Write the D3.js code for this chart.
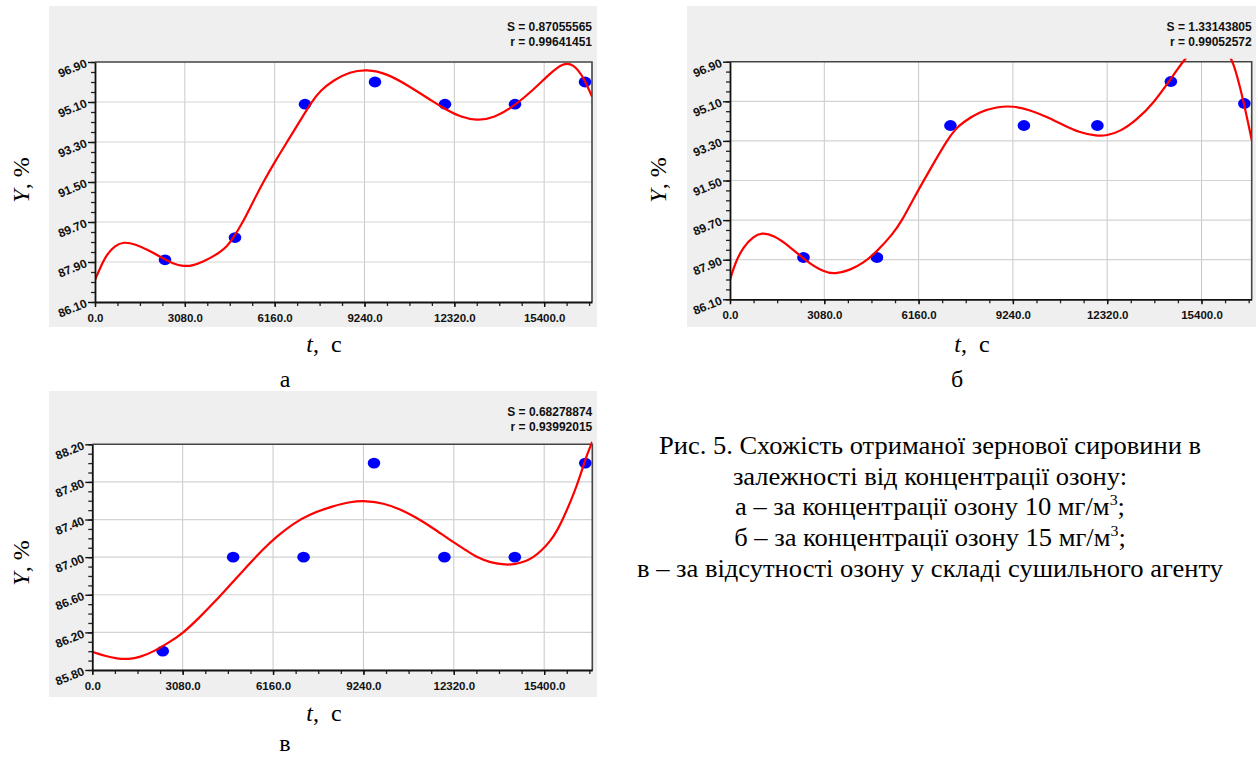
<!DOCTYPE html>
<html>
<head>
<meta charset="utf-8">
<script src="https://cdn.jsdelivr.net/npm/d3@7"></script>
<style>
  body { margin: 0; background: #ffffff; }
</style>
</head>
<body>
<svg id="fig" width="1258" height="758"></svg>
<script>
// Sampling times, s
const sampleTime = [2400, 4800, 7200, 9600, 12000, 14400, 16800];

// Germination, % (а – 10 mg/m3 ozone, б – 15 mg/m3, в – no ozone)
const germA = [88.0, 89.0, 95.0, 96.0, 95.0, 95.0, 96.0];
const germB = [88.0, 88.0, 94.0, 94.0, 94.0, 96.0, 95.0];
const germC = [86.0, 87.0, 87.0, 88.0, 87.0, 87.0, 88.0];

// Fitted regression curves (time, value)
const fitTimeA = [0, 171, 411, 686, 977, 1371, 1886, 2331, 2674, 3017, 3360, 3703, 4046, 4286, 4526, 4742,
  5057, 5400, 5770, 6171, 6593, 7029, 7430, 7714, 8160, 8743, 9315, 10001, 10800, 11599, 12058, 12514,
  13087, 13656, 14342, 15027, 15600, 16056, 16399, 16742, 17040];
const fitA = [87.09, 87.63, 88.26, 88.64, 88.81, 88.71, 88.40, 88.06, 87.83, 87.70, 87.74, 87.91, 88.15, 88.35,
  88.60, 88.98, 89.66, 90.56, 91.50, 92.42, 93.32, 94.25, 95.11, 95.60, 96.07, 96.46, 96.57, 96.39, 95.79,
  95.11, 94.74, 94.44, 94.26, 94.37, 94.89, 95.64, 96.39, 96.87, 96.81, 96.24, 95.34];

const fitTimeB = [0, 163, 434, 761, 1035, 1414, 1960, 2505, 3047, 3430, 3919, 4354, 4792, 5334, 5608, 5961,
  6320, 6696, 7078, 7349, 7620, 8166, 8711, 9254, 9799, 10344, 10887, 11432, 11977, 12304, 12738, 13284,
  13829, 14374, 14809, 15150, 15500, 15850, 16150, 16440, 16766, 17040];
const fitB = [86.98, 87.74, 88.49, 88.95, 89.13, 89.02, 88.49, 87.81, 87.35, 87.24, 87.43, 87.74, 88.26, 89.10,
  89.66, 90.59, 91.48, 92.39, 93.30, 93.82, 94.16, 94.63, 94.85, 94.89, 94.70, 94.40, 94.02, 93.67, 93.52,
  93.54, 93.72, 94.25, 95.01, 96.07, 96.95, 97.45, 97.75, 97.80, 97.55, 96.95, 95.16, 93.34];

const fitTimeC = [0, 433, 842, 1230, 1626, 2093, 2556, 3091, 3671, 4182, 4693, 5262, 5828, 6284, 6850, 7419,
  8213, 8782, 9352, 9917, 10486, 11055, 11621, 12190, 12760, 13100, 13554, 14099, 14430, 14713, 15029,
  15292, 15598, 15837, 16052, 16280, 16509, 16723, 16859, 17040];
const fitC = [85.994, 85.949, 85.920, 85.914, 85.935, 85.997, 86.082, 86.190, 86.364, 86.528, 86.704, 86.898,
  87.087, 87.220, 87.358, 87.459, 87.544, 87.590, 87.600, 87.573, 87.512, 87.419, 87.307, 87.182, 87.069,
  86.998, 86.943, 86.916, 86.927, 86.948, 86.998, 87.065, 87.166, 87.278, 87.416, 87.576, 87.757, 87.959,
  88.087, 88.228];

// Axis ticks
const timeMax = 17040;
const xTicks = [0, 3080, 6160, 9240, 12320, 15400];
const yTicksAB = [86.10, 87.90, 89.70, 91.50, 93.30, 95.10, 96.90];
const yTicksC = [85.80, 86.20, 86.60, 87.00, 87.40, 87.80, 88.20];

// Fit statistics
const statS = ["0.87055565", "1.33143805", "0.68278874"];
const statR = ["0.99641451", "0.99052572", "0.93992015"];

const panelLetters = ["а", "б", "в"];

const captionLines = [
  ["Рис. 5. Схожість отриманої зернової сировини в"],
  ["залежності від концентрації озону:"],
  ["а – за концентрації озону 10 мг/м", "3", ";"],
  ["б – за концентрації озону 15 мг/м", "3", ";"],
  ["в – за відсутності озону у складі сушильного агенту"]
];

const SANS = '"Liberation Sans", Arial, sans-serif';
const SERIF = '"Liberation Serif", "Times New Roman", "DejaVu Serif", serif';

const svg = d3.select("#fig");

const panels = [
  { bg: [49, 6, 548, 321], plot: [95, 62, 497, 240], yTicks: yTicksAB, yMinor: 0.45,
    t: sampleTime, v: germA, ft: fitTimeA, fv: fitA, k: 0,
    yLab: [29, 180], xLab: [324, 352], letter: [285, 387] },
  { bg: [687, 6, 569, 321], plot: [730, 61.7, 521.7, 237.6], yTicks: yTicksAB, yMinor: 0.45,
    t: sampleTime, v: germB, ft: fitTimeB, fv: fitB, k: 1,
    yLab: [666, 180], xLab: [972, 352], letter: [957, 387] },
  { bg: [49, 391, 548, 306], plot: [92.3, 444.3, 500, 225.7], yTicks: yTicksC, yMinor: 0.1,
    t: sampleTime, v: germC, ft: fitTimeC, fv: fitC, k: 2,
    yLab: [29, 563], xLab: [324, 721], letter: [285, 751] }
];

panels.forEach(p => {
  const [px, py, pw, ph] = p.plot;
  const g = svg.append("g");

  g.append("rect")
    .attr("x", p.bg[0]).attr("y", p.bg[1])
    .attr("width", p.bg[2]).attr("height", p.bg[3])
    .attr("fill", "#efefef");

  const x = d3.scaleLinear().domain([0, timeMax]).range([px, px + pw]);
  const y = d3.scaleLinear()
    .domain([p.yTicks[0], p.yTicks[p.yTicks.length - 1]])
    .range([py + ph, py]);

  g.append("rect")
    .attr("x", px).attr("y", py).attr("width", pw).attr("height", ph)
    .attr("fill", "#ffffff");

  // grid
  g.selectAll(".vgrid").data(xTicks.slice(1)).join("line")
    .attr("x1", d => x(d)).attr("x2", d => x(d))
    .attr("y1", py).attr("y2", py + ph)
    .attr("stroke", "#c9c9c9").attr("stroke-width", 1);
  g.selectAll(".hgrid").data(p.yTicks.slice(1, -1)).join("line")
    .attr("x1", px).attr("x2", px + pw)
    .attr("y1", d => y(d)).attr("y2", d => y(d))
    .attr("stroke", "#d3d3d3").attr("stroke-width", 1.2);

  // frame (top / right)
  g.append("path")
    .attr("d", `M${px},${py}H${px + pw}V${py + ph}`)
    .attr("fill", "none").attr("stroke", "#444").attr("stroke-width", 1.6);

  // data points
  g.selectAll(".pt").data(p.t.map((t, i) => [t, p.v[i]])).join("ellipse")
    .attr("cx", d => x(d[0])).attr("cy", d => y(d[1]))
    .attr("rx", 6.3).attr("ry", 5.4)
    .attr("fill", "#0000ff");

  // fitted curve
  const clipId = "clip" + p.k;
  svg.append("clipPath").attr("id", clipId)
    .append("rect").attr("x", px).attr("y", py - 3).attr("width", pw).attr("height", ph + 3);
  const line = d3.line()
    .x(d => x(d[0])).y(d => y(d[1]))
    .curve(d3.curveBasis);
  g.append("path")
    .datum(p.ft.map((t, i) => [t, p.fv[i]]))
    .attr("clip-path", `url(#${clipId})`)
    .attr("d", line)
    .attr("fill", "none").attr("stroke", "#ff0000").attr("stroke-width", 2.2)
    .attr("stroke-linejoin", "round");

  // left axis
  const minorY = d3.range(p.yTicks[0], p.yTicks[p.yTicks.length - 1] + 1e-9, p.yMinor);
  g.append("g").attr("transform", `translate(${px},0)`)
    .call(d3.axisLeft(y).tickValues(minorY).tickSize(4).tickSizeOuter(0).tickFormat(""))
    .call(a => a.select(".domain").remove())
    .call(a => a.selectAll("line").attr("stroke", "#222").attr("stroke-width", 1.3));
  const ay = g.append("g").attr("transform", `translate(${px},0)`)
    .call(d3.axisLeft(y).tickValues(p.yTicks).tickSize(7).tickSizeOuter(0).tickFormat(d3.format(".2f")));
  ay.select(".domain").attr("stroke", "#111").attr("stroke-width", 1.8);
  ay.selectAll("line").attr("stroke", "#111").attr("stroke-width", 1.4);
  ay.selectAll("text")
    .attr("x", null).attr("dy", null)
    .attr("text-anchor", "end")
    .attr("transform", "translate(-7,4) rotate(-22)")
    .attr("fill", "#111")
    .style("font-family", SANS)
    .style("font-weight", "bold").style("font-size", "12px");

  // bottom axis
  const minorX = d3.range(0, timeMax, 770);
  g.append("g").attr("transform", `translate(0,${py + ph})`)
    .call(d3.axisBottom(x).tickValues(minorX).tickSize(4).tickSizeOuter(0).tickFormat(""))
    .call(a => a.select(".domain").remove())
    .call(a => a.selectAll("line").attr("stroke", "#222").attr("stroke-width", 1.3));
  const ax = g.append("g").attr("transform", `translate(0,${py + ph})`)
    .call(d3.axisBottom(x).tickValues(xTicks).tickSize(5).tickSizeOuter(0).tickPadding(7)
      .tickFormat(d3.format(".1f")));
  ax.select(".domain").attr("stroke", "#111").attr("stroke-width", 1.8);
  ax.selectAll("line").attr("stroke", "#111").attr("stroke-width", 1.4);
  ax.selectAll("text")
    .attr("fill", "#111")
    .style("font-family", SANS)
    .style("font-weight", "bold").style("font-size", "11.5px");

  // statistics
  const st = g.append("text")
    .attr("text-anchor", "end")
    .style("font-family", SANS)
    .style("font-weight", "bold").style("font-size", "12px").attr("fill", "#111");
  st.append("tspan").attr("x", px + pw).attr("y", p.bg[1] + 25).text(`S = ${statS[p.k]}`);
  st.append("tspan").attr("x", px + pw).attr("y", p.bg[1] + 40).text(`r = ${statR[p.k]}`);

  // axis titles
  const yl = svg.append("text")
    .attr("transform", `translate(${p.yLab[0]},${p.yLab[1]}) rotate(-90)`)
    .attr("text-anchor", "middle")
    .style("font-family", SERIF).style("font-size", "24px").attr("fill", "#000");
  yl.append("tspan").style("font-style", "italic").text("Y");
  yl.append("tspan").text(",\u00a0%");

  const xl = svg.append("text")
    .attr("x", p.xLab[0]).attr("y", p.xLab[1])
    .attr("text-anchor", "middle")
    .style("font-family", SERIF).style("font-size", "24px").attr("fill", "#000");
  xl.append("tspan").style("font-style", "italic").text("t");
  xl.append("tspan").text(",\u00a0\u00a0с");

  svg.append("text")
    .attr("x", p.letter[0]).attr("y", p.letter[1])
    .attr("text-anchor", "middle")
    .style("font-family", SERIF).style("font-size", "24px").attr("fill", "#000")
    .text(panelLetters[p.k]);
});

// figure caption
const cap = svg.append("g");
const capBase = [454, 485, 515, 546, 577];
const capCenter = 930;
const capNodes = captionLines.map((parts, i) => {
  const t = cap.append("text")
    .attr("x", capCenter).attr("y", capBase[i])
    .attr("text-anchor", "middle")
    .style("font-family", SERIF).style("font-size", "25px").attr("fill", "#000");
  t.append("tspan").text(parts[0]);
  if (parts.length > 1) {
    t.append("tspan").attr("dy", -10).style("font-size", "15px").text(parts[1]);
    t.append("tspan").attr("dy", 10).text(parts[2]);
  }
  return t;
});
// stretch the caption block so the longest line spans its column
const longest = capNodes[4].node().getComputedTextLength();
const sx = 586 / longest;
cap.attr("transform", `translate(${capCenter},0) scale(${sx},1) translate(${-capCenter},0)`);
</script>
</body>
</html>
